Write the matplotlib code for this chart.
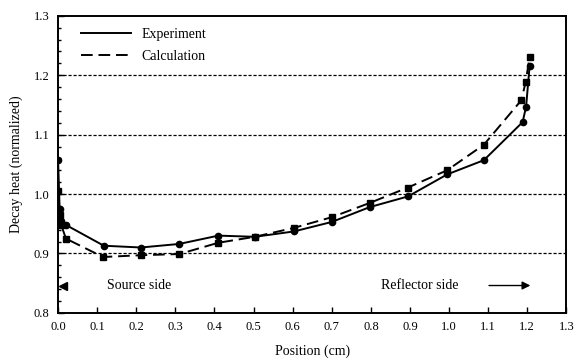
import matplotlib
matplotlib.use('Agg')
from matplotlib import pyplot as plt
from matplotlib.ticker import MultipleLocator

plt.rcParams['font.family'] = ['Liberation Serif', 'DejaVu Serif']

# data
exp_x = [0.0, 0.004, 0.008, 0.02, 0.117, 0.212, 0.31, 0.41, 0.503, 0.603, 0.70, 0.797,
         0.895, 0.995, 1.089, 1.188, 1.197, 1.206]
exp_y = [1.057, 0.975, 0.955, 0.948, 0.913, 0.910, 0.916, 0.930, 0.928, 0.937, 0.953, 0.978,
         0.996, 1.033, 1.057, 1.121, 1.147, 1.216]

calc_x = [0.0, 0.004, 0.008, 0.02, 0.115, 0.212, 0.31, 0.41, 0.503, 0.603, 0.70, 0.797,
          0.895, 0.995, 1.089, 1.185, 1.196, 1.206]
calc_y = [1.005, 0.965, 0.948, 0.925, 0.894, 0.897, 0.899, 0.918, 0.928, 0.943, 0.961, 0.985,
          1.011, 1.040, 1.083, 1.158, 1.189, 1.231]

grid_y = [0.9, 1.0, 1.1, 1.2]

fig = plt.figure(figsize=(5.75, 3.6), dpi=100)
ax = fig.add_axes([0.101, 0.131, 0.884, 0.825])

for g in grid_y:
    ax.axhline(g, color='black', lw=0.9, ls=(0, (2.5, 1.5)), zorder=1)

ax.plot(exp_x, exp_y, color='black', lw=1.4, marker='o', ms=4.5,
        label='Experiment', zorder=3)
ax.plot(calc_x, calc_y, color='black', lw=1.4, ls=(0, (6, 3)), marker='s', ms=5,
        label='Calculation', zorder=3)

ax.set_xlim(0.0, 1.3)
ax.set_ylim(0.8, 1.3)
ax.xaxis.set_major_locator(MultipleLocator(0.1))
ax.yaxis.set_major_locator(MultipleLocator(0.1))
ax.yaxis.set_minor_locator(MultipleLocator(0.02))
ax.xaxis.set_major_formatter(plt.FuncFormatter(lambda v, p: '%.1f' % v))
ax.yaxis.set_major_formatter(plt.FuncFormatter(lambda v, p: '%.1f' % v))
ax.tick_params(axis='both', which='major', direction='in', length=4, width=1,
               labelsize=9, pad=6)
ax.tick_params(axis='y', which='minor', direction='in', length=2.5, width=1)
ax.tick_params(top=False, right=False)
for s in ax.spines.values():
    s.set_linewidth(1.4)

ax.set_xlabel('Position (cm)', fontsize=10, labelpad=8)
ax.set_ylabel('Decay heat (normalized)', fontsize=10, labelpad=8)

leg = ax.legend(loc='upper left', frameon=False, fontsize=10, handlelength=3.6,
                bbox_to_anchor=(0.02, 1.0), labelspacing=0.6)
for h in leg.legend_handles:
    h.set_marker('')

ax.plot([0.013], [0.846], marker='<', color='black', ms=6, clip_on=False)
ax.text(0.125, 0.846, 'Source side', fontsize=10, va='center', ha='left')
ax.text(0.827, 0.846, 'Reflector side', fontsize=10, va='center', ha='left')
ax.annotate('', xy=(1.215, 0.846), xytext=(1.095, 0.846),
            arrowprops=dict(arrowstyle='-|>', color='black', lw=1, mutation_scale=12))

fig.savefig('out.png', dpi=100)
